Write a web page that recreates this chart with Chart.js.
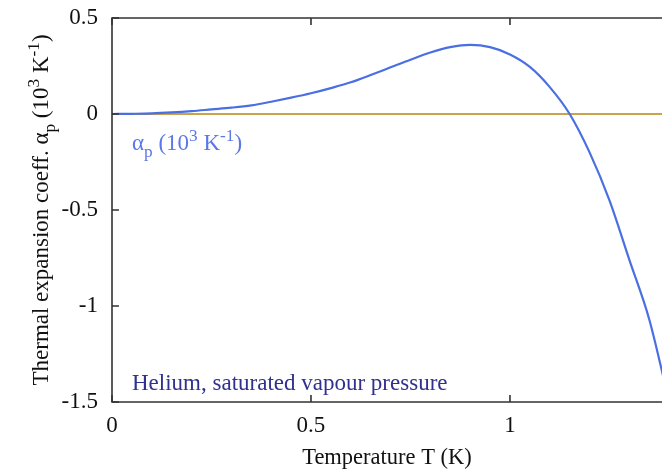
<!DOCTYPE html>
<html>
<head>
<meta charset="utf-8">
<script src="https://cdn.jsdelivr.net/npm/chart.js@4"></script>
<style>
  html, body { margin: 0; padding: 0; background: #fff; }
  #wrap { width: 662px; height: 473px; }
</style>
</head>
<body>
<div id="wrap"><canvas id="chart" width="662" height="473"></canvas></div>
<script>
// datos
const temps = [0, 0.05, 0.1, 0.15, 0.2, 0.25, 0.3, 0.35, 0.4, 0.45, 0.5, 0.55, 0.6, 0.65, 0.7,
  0.75, 0.8, 0.85, 0.9, 0.95, 1.0, 1.05, 1.1, 1.15, 1.2, 1.25, 1.3, 1.35, 1.4];
const alphaP = [0, 0.001, 0.003, 0.008, 0.015, 0.024, 0.033, 0.045, 0.064, 0.085, 0.108, 0.135, 0.165, 0.203, 0.243,
  0.283, 0.32, 0.348, 0.36, 0.348, 0.31, 0.245, 0.14, 0.0, -0.2, -0.45, -0.76, -1.07, -1.5];
const zeroLine = [0, 0];
const xTicks = [0, 0.5, 1];
const yTicks = [0.5, 0, -0.5, -1, -1.5];
const xMax = 1.382;

const serif = '"Liberation Serif", "DejaVu Serif", serif';

// texto con subindices y superindices
function drawRich(ctx, parts, x, y, size, color, center) {
  ctx.fillStyle = color;
  ctx.textBaseline = 'alphabetic';
  ctx.textAlign = 'left';
  let total = 0;
  parts.forEach(p => {
    ctx.font = (p.sub || p.sup ? size * 0.75 : size) + 'px ' + serif;
    p.w = ctx.measureText(p.t).width;
    total += p.w;
  });
  let cx = center ? x - total / 2 : x;
  parts.forEach(p => {
    ctx.font = (p.sub || p.sup ? size * 0.75 : size) + 'px ' + serif;
    let dy = 0;
    if (p.sub) dy = size * 0.3;
    if (p.sup) dy = -size * 0.4;
    ctx.fillText(p.t, cx, y + dy);
    cx += p.w;
  });
}

const framePlugin = {
  id: 'frame',
  afterDraw(chart) {
    const ctx = chart.ctx;
    const a = chart.chartArea;
    const x = chart.scales.x;
    const y = chart.scales.y;
    ctx.save();
    ctx.strokeStyle = '#333';
    ctx.lineWidth = 1.6;
    ctx.beginPath();
    ctx.moveTo(a.right + 2, a.top);
    ctx.lineTo(a.left, a.top);
    ctx.lineTo(a.left, a.bottom);
    ctx.lineTo(a.right + 2, a.bottom);
    ctx.stroke();
    ctx.beginPath();
    yTicks.forEach(v => {
      const py = y.getPixelForValue(v);
      ctx.moveTo(a.left, py);
      ctx.lineTo(a.left + 7, py);
    });
    xTicks.forEach(v => {
      const px = x.getPixelForValue(v);
      ctx.moveTo(px, a.bottom);
      ctx.lineTo(px, a.bottom - 7);
      ctx.moveTo(px, a.top);
      ctx.lineTo(px, a.top + 7);
    });
    ctx.stroke();

    // titulo eje y
    ctx.save();
    ctx.translate(48, 210);
    ctx.rotate(-Math.PI / 2);
    drawRich(ctx, [
      {t: 'Thermal expansion coeff. \u03b1'}, {t: 'p', sub: true}, {t: ' (10'}, {t: '3', sup: true},
      {t: ' K'}, {t: '-1', sup: true}, {t: ')'}
    ], 0, 0, 23, '#111', true);
    ctx.restore();

    // etiquetas dentro del grafico
    drawRich(ctx, [
      {t: '\u03b1'}, {t: 'p', sub: true}, {t: ' (10'}, {t: '3', sup: true},
      {t: ' K'}, {t: '-1', sup: true}, {t: ')'}
    ], 132, 150, 23, '#5b78e8', false);
    drawRich(ctx, [{t: 'Helium, saturated vapour pressure'}], 132, 390, 23, '#30308f', false);
    ctx.restore();
  }
};

new Chart(document.getElementById('chart'), {
  type: 'line',
  data: {
    datasets: [{
      label: 'alpha_p',
      data: temps.map((t, i) => ({x: t, y: alphaP[i]})),
      borderColor: '#4a6fe3',
      borderWidth: 2.2,
      pointRadius: 0,
      cubicInterpolationMode: 'monotone',
      fill: false
    }, {
      label: 'cero',
      data: [{x: temps[0], y: zeroLine[0]}, {x: temps[temps.length - 1], y: zeroLine[1]}],
      borderColor: '#c9a24a',
      borderWidth: 2,
      pointRadius: 0,
      fill: false
    }]
  },
  options: {
    responsive: false,
    animation: false,
    layout: { padding: { top: 18, right: 0, left: 0, bottom: 0 } },
    plugins: { legend: { display: false }, tooltip: { enabled: false } },
    scales: {
      x: {
        type: 'linear',
        min: 0,
        max: xMax,
        grid: { display: false, drawTicks: false },
        border: { display: false },
        afterBuildTicks: s => { s.ticks = xTicks.map(v => ({value: v})); },
        afterFit: s => { s.height = 71; s.paddingRight = 0; },
        ticks: {
          padding: 10,
          color: '#111',
          font: { family: serif, size: 23 },
          callback: v => String(v)
        },
        title: {
          display: true,
          text: 'Temperature T (K)',
          color: '#111',
          font: { family: serif, size: 22.5 },
          padding: { top: 0, bottom: 1 }
        }
      },
      y: {
        min: -1.5,
        max: 0.5,
        grid: { display: false, drawTicks: false },
        border: { display: false },
        afterBuildTicks: s => { s.ticks = yTicks.map(v => ({value: v})); },
        afterFit: s => { s.width = 112; s.paddingTop = 18; s.paddingBottom = 0; },
        ticks: {
          padding: 14,
          color: '#111',
          font: { family: serif, size: 23 },
          callback: v => String(v)
        }
      }
    }
  },
  plugins: [framePlugin]
});
</script>
</body>
</html>
